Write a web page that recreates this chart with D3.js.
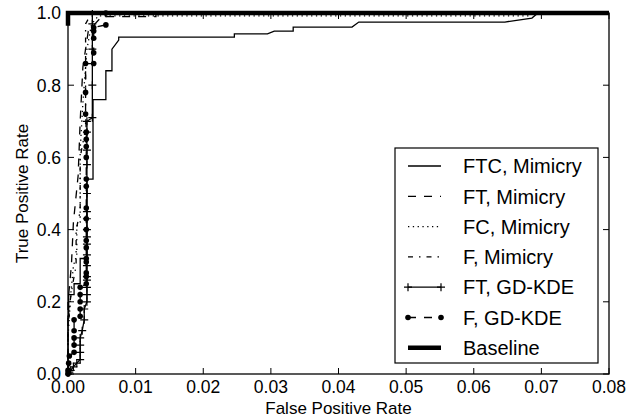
<!DOCTYPE html>
<html>
<head>
<meta charset="utf-8">
<script src="https://cdn.jsdelivr.net/npm/d3@7"></script>
<style>
  html, body { margin: 0; padding: 0; background: #fff; }
  svg { display: block; font-family: "Liberation Sans", Arial, Helvetica, sans-serif; }
</style>
</head>
<body>
<svg id="chart" width="637" height="419"></svg>
<script>
// ---- data ----
const xTicks = [0, 0.01, 0.02, 0.03, 0.04, 0.05, 0.06, 0.07, 0.08];
const yTicks = [0, 0.2, 0.4, 0.6, 0.8, 1.0];
const seriesNames = ["FTC, Mimicry", "FT, Mimicry", "FC, Mimicry", "F, Mimicry", "FT, GD-KDE", "F, GD-KDE", "Baseline"];

const ftcMimicry = [[0,0],[0,0.16],[0.0001,0.16],[0.0001,0.22],[0.0009,0.22],[0.0009,0.25],[0.0018,0.25],[0.0018,0.32],[0.0028,0.32],[0.0028,0.54],[0.0037,0.54],[0.0037,0.76],[0.0056,0.76],[0.0056,0.84],[0.0065,0.84],[0.0065,0.9],[0.0075,0.925],[0.0075,0.933],[0.0246,0.933],[0.0246,0.942],[0.0295,0.942],[0.0305,0.95],[0.0333,0.95],[0.0333,0.961],[0.042,0.961],[0.043,0.975],[0.0646,0.975],[0.0686,0.986],[0.0695,1.0],[1,1]];
const ftMimicry = [[0,0],[0,0.2],[0.0005,0.3],[0.0008,0.42],[0.0015,0.55],[0.0018,0.7],[0.0022,0.85],[0.003,0.95],[0.005,0.99],[0.013,0.99],[0.013,1.0],[1,1]];
const fcMimicry = [[0,0],[0,0.1],[0.0004,0.22],[0.0008,0.3],[0.0013,0.33],[0.0013,0.41],[0.0018,0.42],[0.0018,0.62],[0.0022,0.75],[0.0028,0.9],[0.0035,0.97],[0.0045,0.992],[0.068,0.992],[0.069,1.0],[1,1]];
const fMimicry = [[0,0],[0,0.12],[0.0003,0.2],[0.0007,0.25],[0.0012,0.3],[0.0012,0.4],[0.0018,0.45],[0.0018,0.6],[0.0026,0.68],[0.0026,0.97],[0.0035,1.0],[1,1]];
const ftGdKde = [[0,0],[0.0002,0.005],[0.0004,0.01],[0.0008,0.02],[0.0013,0.03],[0.0018,0.04],[0.0018,0.06],[0.0018,0.08],[0.0018,0.1],[0.0021,0.12],[0.0024,0.15],[0.0024,0.18],[0.0028,0.2],[0.0028,0.22],[0.0028,0.24],[0.0028,0.26],[0.0028,0.27],[0.0028,0.3],[0.0028,0.33],[0.0028,0.36],[0.0028,0.38],[0.0028,0.4],[0.0028,0.43],[0.0028,0.45],[0.0028,0.5],[0.0028,0.58],[0.0028,0.62],[0.0028,0.67],[0.0028,0.7],[0.0036,0.71],[0.0036,0.8],[0.0036,0.9],[0.0036,0.97],[0.0036,1.0],[1,1]];
const fGdKde = [[0,0],[0,0.01],[0.0001,0.03],[0.0002,0.05],[0.0009,0.06],[0.0009,0.08],[0.0009,0.1],[0.0009,0.12],[0.0009,0.15],[0.0018,0.16],[0.0018,0.18],[0.0018,0.2],[0.0018,0.22],[0.0018,0.24],[0.0027,0.25],[0.0027,0.27],[0.0027,0.28],[0.0027,0.31],[0.0027,0.32],[0.0027,0.35],[0.0027,0.37],[0.0027,0.4],[0.0027,0.43],[0.0027,0.46],[0.0027,0.52],[0.0027,0.54],[0.0027,0.6],[0.0027,0.63],[0.0027,0.65],[0.0027,0.67],[0.0026,0.72],[0.0026,0.78],[0.0026,0.86],[0.0038,0.86],[0.0038,0.89],[0.0038,0.93],[0.0038,0.95],[0.0038,0.96],[0.0056,0.967],[0.0056,1.0],[1,1]];
const baseline = [[0,0.965],[0,1],[1,1]];

// ---- layout ----
const W = 637, H = 419;
const L = 68, R = 609, T = 13, B = 374;
const svg = d3.select("#chart");
const x = d3.scaleLinear().domain([0, 0.08]).range([L, R]);
const y = d3.scaleLinear().domain([0, 1]).range([B, T]);

svg.append("defs").append("clipPath").attr("id", "clip")
  .append("rect").attr("x", L - 3).attr("y", T - 3).attr("width", R - L + 3).attr("height", B - T + 6);

const line = d3.line().x(d => x(d[0])).y(d => y(d[1]));

const styles = [
  { data: ftcMimicry, dash: null, w: 1.3, marker: null },
  { data: ftMimicry, dash: "8,8", w: 1.3, marker: null },
  { data: fcMimicry, dash: "1.3,3.5", w: 1.3, marker: null },
  { data: fMimicry, dash: "5,6,1.5,6", w: 1.3, marker: null },
  { data: ftGdKde, dash: null, w: 1.3, marker: "plus" },
  { data: fGdKde, dash: "8,8", w: 1.3, marker: "dot" },
  { data: baseline, dash: null, w: 4.5, marker: null }
];

const plot = svg.append("g").attr("clip-path", "url(#clip)");

function drawMarker(g, type, cx, cy) {
  if (type === "plus") {
    g.append("path").attr("d", `M${cx-4},${cy}H${cx+4}M${cx},${cy-4}V${cy+4}`)
      .attr("stroke", "#000").attr("stroke-width", 1.2).attr("fill", "none");
  } else if (type === "dot") {
    g.append("circle").attr("cx", cx).attr("cy", cy).attr("r", 2.8).attr("fill", "#000");
  }
}

styles.forEach(s => {
  plot.append("path").datum(s.data).attr("d", line)
    .attr("fill", "none").attr("stroke", "#000").attr("stroke-width", s.w)
    .attr("stroke-dasharray", s.dash).attr("stroke-linejoin", "miter");
  if (s.marker) {
    s.data.forEach(d => {
      if (d[0] <= 0.08) drawMarker(plot, s.marker, x(d[0]), y(d[1]));
    });
  }
});

// ---- axes frame & ticks ----
const ax = svg.append("g");
ax.append("rect").attr("x", L).attr("y", T).attr("width", R - L).attr("height", B - T)
  .attr("fill", "none").attr("stroke", "#000").attr("stroke-width", 1.3);

const tk = 6;
xTicks.forEach(v => {
  ax.append("line").attr("x1", x(v)).attr("x2", x(v)).attr("y1", B).attr("y2", B - tk).attr("stroke", "#000").attr("stroke-width", 1);
  ax.append("line").attr("x1", x(v)).attr("x2", x(v)).attr("y1", T).attr("y2", T + tk).attr("stroke", "#000").attr("stroke-width", 1);
  ax.append("text").attr("x", x(v)).attr("y", B + 19).attr("text-anchor", "middle")
    .attr("font-size", 17.5).text(d3.format(".2f")(v));
});
yTicks.forEach(v => {
  ax.append("line").attr("x1", L).attr("x2", L + tk).attr("y1", y(v)).attr("y2", y(v)).attr("stroke", "#000").attr("stroke-width", 1);
  ax.append("line").attr("x1", R).attr("x2", R - tk).attr("y1", y(v)).attr("y2", y(v)).attr("stroke", "#000").attr("stroke-width", 1);
  ax.append("text").attr("x", L - 7).attr("y", y(v)).attr("dy", "0.36em").attr("text-anchor", "end")
    .attr("font-size", 17.5).text(d3.format(".1f")(v));
});

svg.append("text").attr("x", (L + R) / 2).attr("y", 414).attr("text-anchor", "middle")
  .attr("font-size", 17).text("False Positive Rate");
svg.append("text").attr("transform", `translate(28,${(T + B) / 2}) rotate(-90)`).attr("text-anchor", "middle")
  .attr("font-size", 17).text("True Positive Rate");

// ---- legend ----
const lg = svg.append("g");
const lx = 395, ly = 148, lw = 203, lh = 215;
lg.append("rect").attr("x", lx).attr("y", ly).attr("width", lw).attr("height", lh)
  .attr("fill", "#fff").attr("stroke", "#000").attr("stroke-width", 1.2);
seriesNames.forEach((name, i) => {
  const s = styles[i];
  const cy = 166 + i * 30.3;
  lg.append("line").attr("x1", 408).attr("x2", 441).attr("y1", cy).attr("y2", cy)
    .attr("stroke", "#000").attr("stroke-width", s.w).attr("stroke-dasharray", s.dash);
  if (s.marker) { drawMarker(lg, s.marker, 408, cy); drawMarker(lg, s.marker, 441, cy); }
  lg.append("text").attr("x", 463).attr("y", cy).attr("dy", "0.36em").attr("font-size", 20).text(name);
});
</script>
</body>
</html>
